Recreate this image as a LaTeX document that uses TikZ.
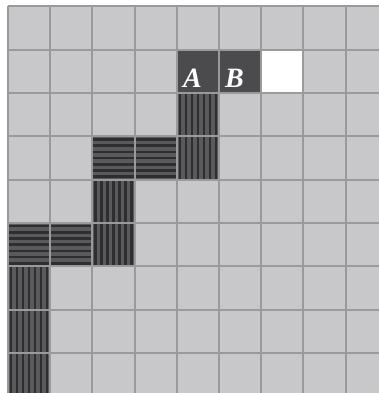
\documentclass[tikz,border=0pt]{standalone}
\usepackage{fontspec}
\setmainfont{Liberation Serif}
\usepackage{tikz}
\usetikzlibrary{positioning}
\definecolor{cellgray}{HTML}{C8C8CA}
\definecolor{linegray}{HTML}{9A9A9C}
\definecolor{cubedark}{HTML}{4B4B4D}
\definecolor{stripebase}{HTML}{5A5A5C}
\definecolor{stripedark}{HTML}{2E2E30}

% cell size and grid origin (px)
\def\cw{42.2}
\def\ch{43.3}
\def\ox{8}
\def\oy{6.5}

\begin{document}
\begin{tikzpicture}[x=1pt, y=-1pt,
  gridline/.style={linegray, line width=2pt},
  stripe/.style={stripedark, line width=2.6pt},
  letter/.style={text=white, font=\fontsize{28}{30}\selectfont\bfseries\itshape, inner sep=0pt, anchor=base west},
]
\useasboundingbox (0,0) rectangle (379,393);
\clip (0,0) rectangle (379,393);

% background cells
\fill[cellgray] (\ox,\oy) rectangle (\ox+9*\cw,\oy+9*\ch);

% vertical striped cells
\foreach \c/\r in {4/2, 4/3, 2/4, 2/5, 0/6, 0/7, 0/8}{
  \fill[stripebase] (\ox+\c*\cw,\oy+\r*\ch) rectangle ++(\cw,\ch);
  \foreach \i in {0,...,6}
    \draw[stripe] (\ox+\c*\cw+\i*\cw/7+\cw/14,\oy+\r*\ch) -- ++(0,\ch);
}

% horizontal striped cells
\foreach \c/\r in {2/3, 3/3, 0/5, 1/5}{
  \fill[stripebase] (\ox+\c*\cw,\oy+\r*\ch) rectangle ++(\cw,\ch);
  \foreach \i in {0,...,6}
    \draw[stripe] (\ox+\c*\cw,\oy+\r*\ch+\i*\ch/7+\ch/14) -- ++(\cw,0);
}

% solid cells A, B and empty cell
\fill[cubedark] (\ox+4*\cw,\oy+\ch) rectangle ++(2*\cw,\ch);
\fill[white] (\ox+6*\cw,\oy+\ch) rectangle ++(\cw,\ch);

% grid lines
\foreach \k in {0,...,9}{
  \draw[gridline] (\ox+\k*\cw,\oy) -- (\ox+\k*\cw,\oy+9*\ch);
  \draw[gridline] (\ox,\oy+\k*\ch) -- (\ox+9*\cw,\oy+\k*\ch);
}

% labels
\node[letter] (labA) at (\ox+4*\cw+6,\oy+2*\ch-6) {A};
\node[letter] (labB) at (\ox+5*\cw+6,\oy+2*\ch-6) {B};

\end{tikzpicture}
\end{document}
